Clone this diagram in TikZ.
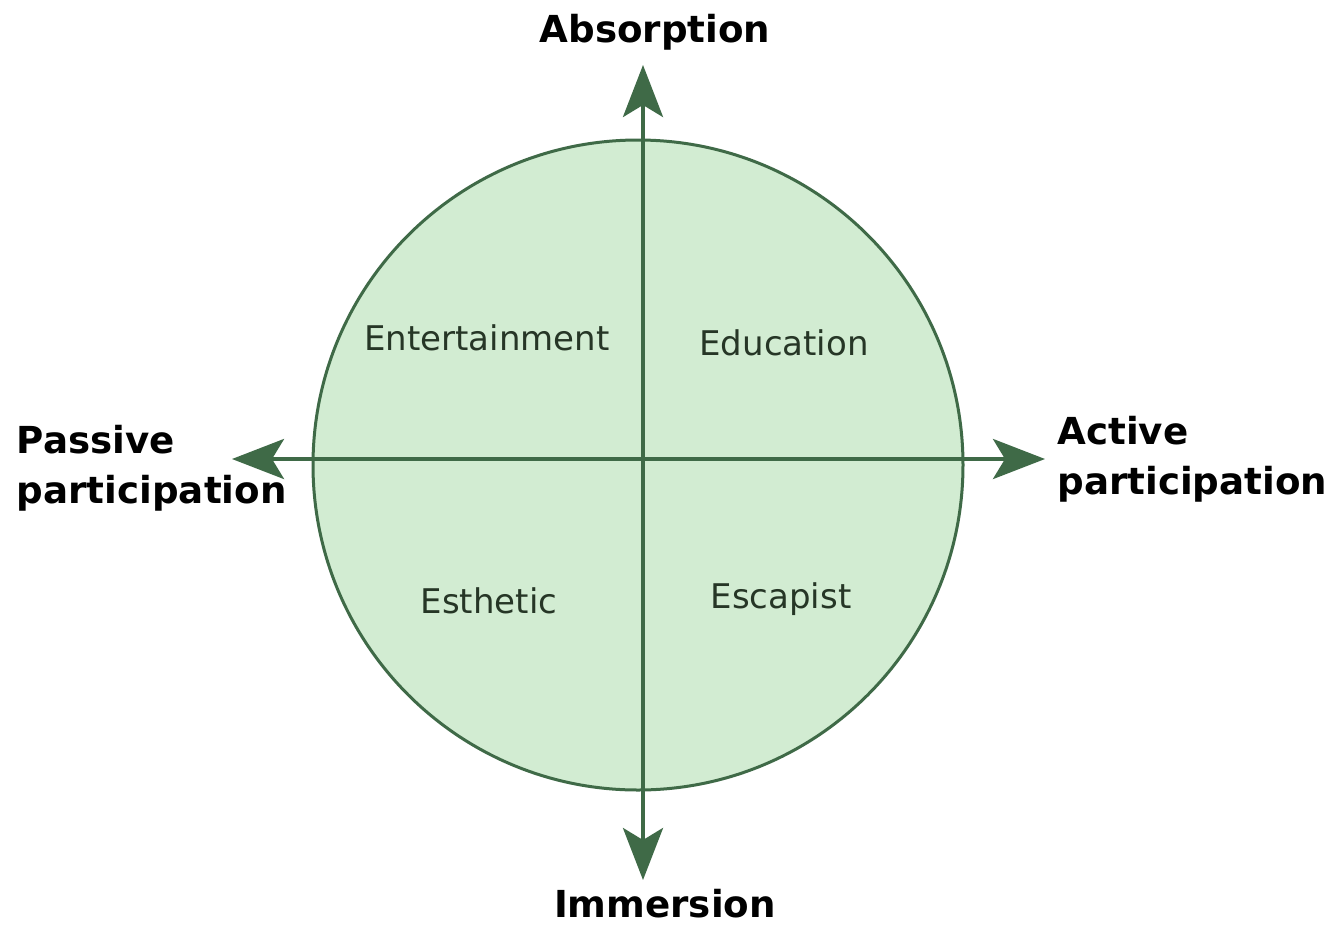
\documentclass[tikz,border=0pt]{standalone}
\usepackage{fontspec}
\setmainfont{DejaVu Sans}
\usepackage{xcolor}
\usepackage{tikz}
\usetikzlibrary{arrows.meta, positioning}
\definecolor{axisgreen}{HTML}{3F6A47}
\definecolor{discfill}{HTML}{D2ECD2}
\definecolor{quadtext}{HTML}{263626}
\tikzset{
  disc/.style={circle, draw=axisgreen, line width=1.5pt, fill=discfill, minimum size=325pt, inner sep=0pt},
  axis/.style={{Stealth[length=26pt, width=20pt, inset=6pt]}-{Stealth[length=26pt, width=20pt, inset=6pt]}, line width=2pt, axisgreen},
  realm/.style={font=\fontsize{17}{20}\selectfont, text=quadtext, inner sep=0pt},
  pole/.style={font=\fontsize{18.6}{25}\selectfont\bfseries, text=black, inner sep=0pt, align=left},
}

\begin{document}
\begin{tikzpicture}[x=0.5pt, y=-0.5pt]
\useasboundingbox[fill=white] (0,0) rectangle (1329,927);
\node[disc] (circ) at (638,465) {};
% axis ends
\coordinate (north) at (643,65);
\coordinate (south) at (643,880);
\coordinate (west) at (232,459);
\coordinate (east) at (1045,459);
\draw[axis] (south) -- (north);
\draw[axis] (west) -- (east);
% the four realms
\node[realm] (ent) at (487,338) {Entertainment};
\node[realm] (edu) at (784,343) {Education};
\node[realm] (est) at (489,601) {Esthetic};
\node[realm] (esc) at (781,599) {Escapist};
% pole labels
\node[pole] (abs) at (655,32) {Absorption};
\node[pole] (imm) at (665,904) {Immersion};
\node[pole, anchor=east] (pas) at (287,468) {Passive\\participation};
\node[pole, anchor=west] (act) at (1057,459) {Active\\participation};
\end{tikzpicture}
\end{document}
